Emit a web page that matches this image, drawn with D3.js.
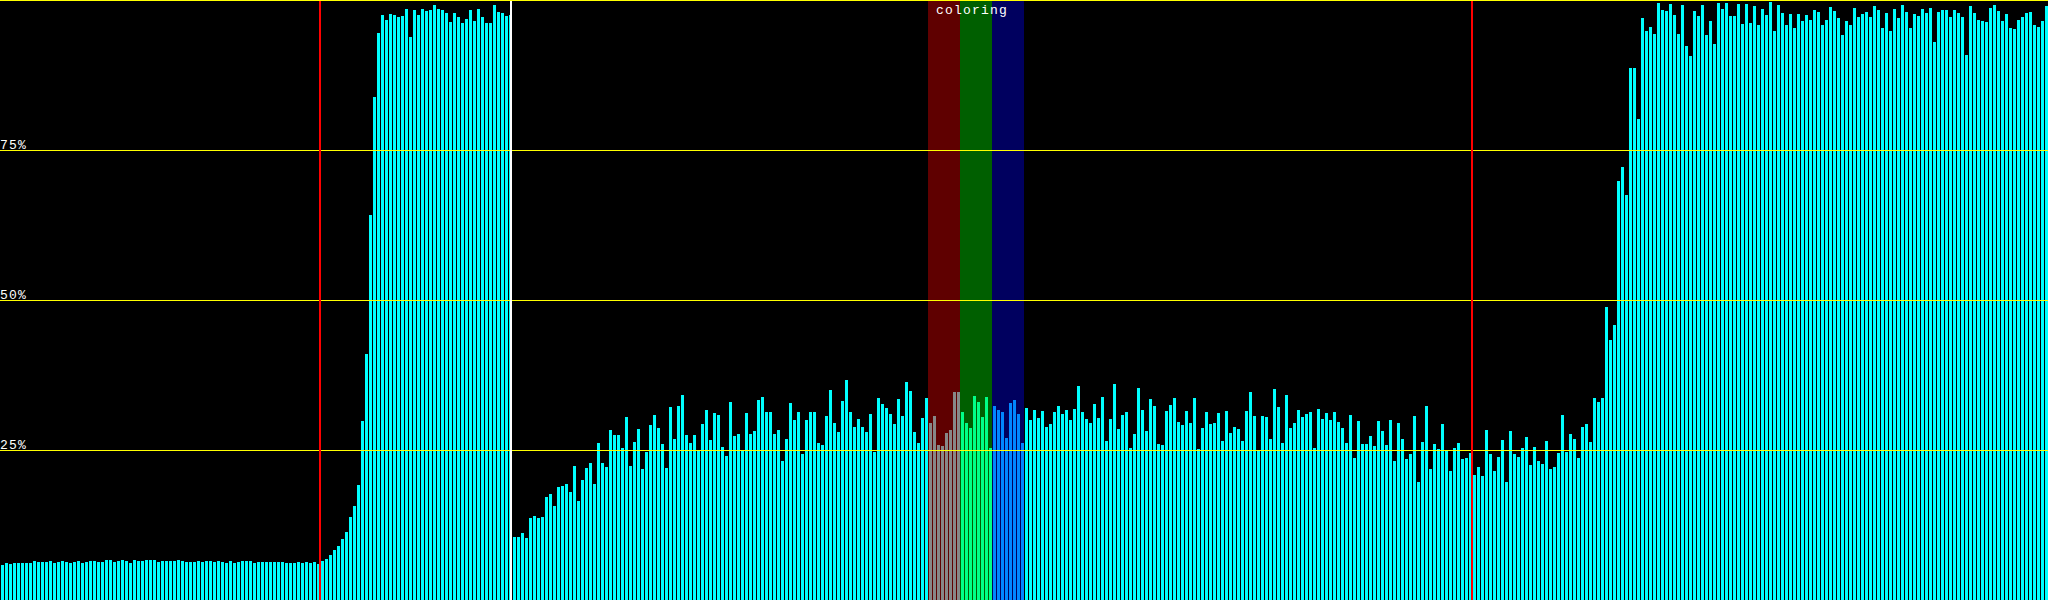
<!DOCTYPE html>
<html>
<head>
<meta charset="utf-8">
<script src="https://cdn.jsdelivr.net/npm/d3@7"></script>
<style>
  html, body { margin: 0; padding: 0; background: #000; }
  svg { display: block; }
  text { font-family: "Liberation Mono", "DejaVu Sans Mono", monospace; }
</style>
</head>
<body>
<div id="chart"></div>
<script>
// ---- data (percent per bucket) ----
const seg0 = [5.8,6.2,6.0,6.2,6.2,6.2,6.2,6.2,6.5,6.3,6.3,6.3,6.5,6.2,6.3,6.5,6.3,6.2,6.3,6.5,6.2,6.3,6.5,6.5,6.3,6.3,6.7,6.7,6.3,6.5,6.7,6.5,6.2,6.7,6.5,6.5,6.7,6.7,6.7,6.3,6.5,6.5,6.5,6.5,6.7,6.5,6.3,6.3,6.3,6.5,6.3,6.5,6.5,6.3,6.5,6.3,6.2,6.5,6.2,6.3,6.5,6.5,6.5,6.2];
const seg1 = [6.3,6.3,6.3,6.3,6.3,6.3,6.3,6.2,6.2,6.2,6.3,6.2,6.3,6.2,6.3,6.0,6.5,6.8,7.5,8.4,9.0,10.1,11.4,13.8,15.7,19.2,29.8,41.0,64.2,83.9,94.5,97.5,96.7,97.6,97.5,97.2,97.3,98.5,93.8,98.3,97.5,98.5,98.2,98.3,99.2,98.5,98.3,97.8,96.4,97.8,97.2,96.2,96.8,98.3,96.5,98.5,97.2,96.2,96.2,99.2,98.0,97.8,97.3,97.5];
const seg2 = [10.5,10.5,11.2,10.3,13.6,14.0,13.6,13.8,17.2,17.7,15.7,18.8,19.0,19.3,18.0,22.3,16.5,20.0,22.0,22.8,19.3,26.1,22.8,22.2,28.3,27.5,27.5,25.3,30.5,22.3,26.3,28.5,21.8,24.7,29.1,30.8,28.6,26.0,22.0,32.1,26.8,32.3,34.2,27.5,26.1,27.5,24.9,29.3,31.7,26.7,31.2,30.8,25.5,24.0,33.0,27.4,27.7,24.9,31.2,27.7,28.2,33.4,33.8,31.3];
const seg3 = [31.3,27.7,28.3,23.1,26.8,32.8,30.0,31.3,24.4,30.0,31.3,31.3,26.1,25.8,30.7,35.0,29.5,28.0,33.2,36.7,31.3,28.8,30.2,28.8,28.0,31.0,24.6,33.7,32.7,32.0,31.0,29.3,33.5,30.7,36.4,34.8,28.0,26.1,30.4,33.7,29.5,30.7,25.8,25.6,27.8,28.3,34.7,34.7,31.3,29.5,28.6,34.0,33.0,30.5,33.9,25.3,32.3,31.7,31.3,27.0,32.8,33.4,31.0,26.1];
const seg4 = [32.0,30.0,31.7,30.4,31.5,28.8,29.3,31.3,32.3,31.0,31.7,30.0,31.8,35.7,31.3,30.2,29.5,32.7,30.4,33.9,26.5,30.2,36.0,28.5,30.8,31.3,25.3,27.7,35.3,31.7,28.2,33.5,32.3,26.0,25.8,31.5,32.5,33.7,29.7,29.1,31.5,29.5,33.7,25.2,28.6,31.3,29.3,29.5,31.2,26.5,31.5,27.8,28.8,28.5,26.5,31.5,34.7,30.7,25.0,30.7,30.5,26.8,35.1,32.1];
const seg5 = [26.1,34.2,28.6,29.5,31.7,30.5,31.0,31.3,25.3,31.8,30.2,31.2,30.0,31.3,29.7,28.6,26.1,30.8,23.7,29.8,26.0,26.0,27.4,25.6,29.8,28.2,25.8,30.0,23.1,29.5,26.8,23.5,24.4,30.7,19.6,26.3,32.3,21.8,26.0,25.2,29.3,24.9,21.5,25.3,26.1,23.5,23.7,24.5,20.9,22.2,20.7,28.3,24.4,21.5,23.9,26.7,19.6,28.2,24.4,23.9,25.3,27.2,22.5,25.5];
const seg6 = [23.1,22.6,26.5,21.8,22.2,24.5,30.8,24.7,27.7,26.8,23.7,28.8,29.3,26.3,33.7,33.0,33.7,48.9,43.3,45.9,69.8,72.2,67.5,88.6,88.6,80.2,97.0,94.8,95.5,94.3,99.5,98.3,98.2,99.4,97.5,94.3,99.2,92.3,90.7,98.2,97.3,99.2,94.2,96.5,92.7,99.5,98.5,99.5,97.3,97.3,99.4,96.0,99.4,96.2,99.0,95.9,98.5,97.5,99.7,94.8,99.2,97.8,95.9,97.6];
const seg7 = [95.3,97.6,96.5,97.5,96.7,98.3,98.0,95.9,96.7,98.9,98.2,97.0,94.2,96.5,95.9,98.7,97.2,97.6,98.0,97.2,99.0,98.3,95.3,97.8,94.8,98.5,97.0,99.2,98.0,95.3,97.6,97.3,98.5,97.8,98.7,93.0,98.0,98.3,98.3,97.2,98.3,97.8,97.2,90.8,99.0,97.8,96.7,96.5,96.4,98.7,99.2,98.2,96.5,97.6,95.3,95.2,96.7,97.2,97.8,98.0,95.9,95.5,96.5,99.0];

const tickValues = [25, 50, 75];
const tickLabels = ["25%", "50%", "75%"];
const gridValues = [25, 50, 75, 100];

// colouring bands: [first bucket, last bucket + 1]
const bandNames   = ["red", "green", "blue"];
const bandStarts  = [232, 240, 248];
const bandEnds    = [240, 248, 256];
const bandFills   = ["#5f0000", "#005f00", "#00005f"];
const bandBarFill = ["#878787", "#00ff87", "#0087ff"];
const bandTitle   = "coloring";

// vertical markers (bucket boundaries)
const redMarkers   = [80, 368];
const whiteMarkers = [127.75];

const values = [].concat(seg0, seg1, seg2, seg3, seg4, seg5, seg6, seg7);

// ---- drawing ----
const W = 2048, H = 600;
const svg = d3.select("#chart").append("svg")
  .attr("width", W).attr("height", H)
  .attr("shape-rendering", "crispEdges");

svg.append("rect").attr("width", W).attr("height", H).attr("fill", "#000");

const x = d3.scaleLinear().domain([0, values.length]).range([0, W]);
const y = d3.scaleLinear().domain([0, 100]).range([H, 0]);
const step = x(1) - x(0);

// bands
svg.append("g").selectAll("rect")
  .data(bandNames)
  .join("rect")
  .attr("x", (d, i) => x(bandStarts[i]))
  .attr("y", 0)
  .attr("width", (d, i) => x(bandEnds[i]) - x(bandStarts[i]))
  .attr("height", H)
  .attr("fill", (d, i) => bandFills[i]);

function barColor(i) {
  for (let k = 0; k < bandStarts.length; k++) {
    if (i >= bandStarts[k] && i < bandEnds[k]) return bandBarFill[k];
  }
  return "#00ffff";
}

// bars
svg.append("g").selectAll("rect")
  .data(values)
  .join("rect")
  .attr("x", (d, i) => x(i) + 1)
  .attr("y", d => Math.round(y(d)))
  .attr("width", step - 1)
  .attr("height", d => H - Math.round(y(d)))
  .attr("fill", (d, i) => barColor(i));

// grid lines
svg.append("g").selectAll("rect")
  .data(gridValues)
  .join("rect")
  .attr("x", 0)
  .attr("y", d => Math.min(H - 1, Math.round(y(d))))
  .attr("width", W)
  .attr("height", 1)
  .attr("fill", "#ffff00");

// markers
svg.append("g").selectAll("rect")
  .data(redMarkers)
  .join("rect")
  .attr("x", d => x(d) - 1)
  .attr("y", 1)
  .attr("width", 2)
  .attr("height", H - 1)
  .attr("fill", "#ff0000");

svg.append("g").selectAll("rect")
  .data(whiteMarkers)
  .join("rect")
  .attr("x", d => x(d) - 1)
  .attr("y", 1)
  .attr("width", 2)
  .attr("height", H - 1)
  .attr("fill", "#ffffff");

// tick labels
svg.append("g").selectAll("text")
  .data(tickValues)
  .join("text")
  .attr("x", 0)
  .attr("y", d => y(d) - 1)
  .attr("fill", "#ffffff")
  .attr("font-size", 13)
  .attr("letter-spacing", "1.2px")
  .text((d, i) => tickLabels[i]);

// band title
svg.append("text")
  .attr("x", x(bandStarts[0]) + 8)
  .attr("y", 14)
  .attr("fill", "#ffffff")
  .attr("font-size", 13)
  .attr("letter-spacing", "1.2px")
  .text(bandTitle);
</script>
</body>
</html>
